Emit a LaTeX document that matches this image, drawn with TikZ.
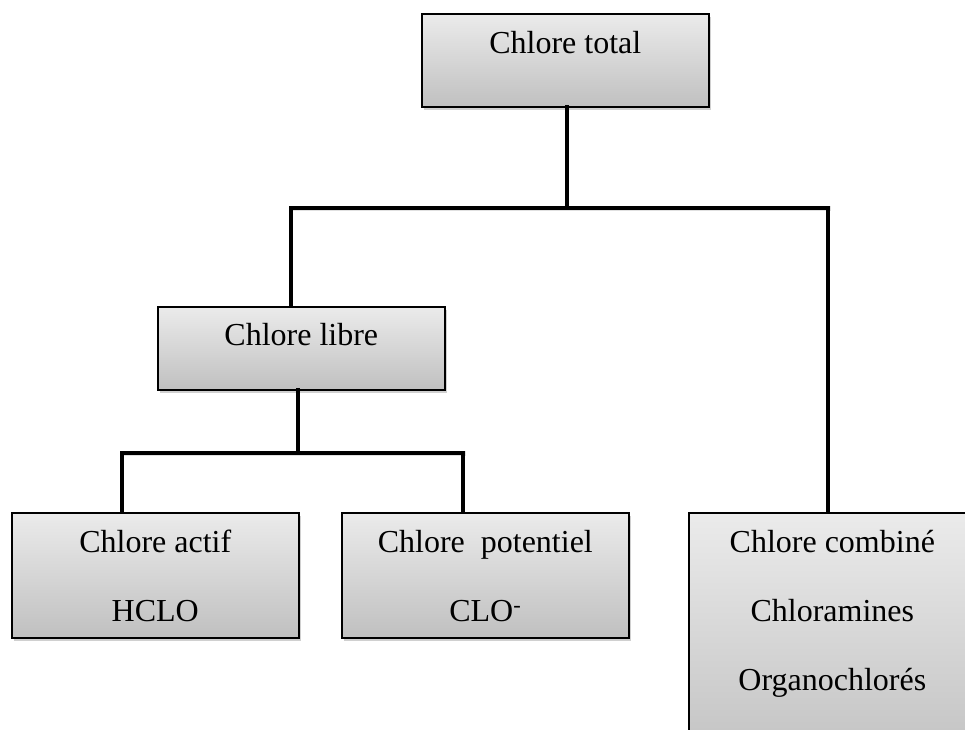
\documentclass[tikz,border=0pt]{standalone}
\usepackage{fontspec}
\setmainfont{Liberation Serif}
\usetikzlibrary{shadows}
\definecolor{boxtop}{HTML}{EBEBEB}
\definecolor{boxbot}{HTML}{C0C0C0}
\tikzset{
  box/.style={rectangle, draw=black, line width=1.6pt, top color=boxtop, bottom color=boxbot,
    minimum width=287pt, inner sep=0pt, anchor=north west,
    drop shadow={shadow xshift=2pt, shadow yshift=-3pt, opacity=0.3, fill=black!60}},
  txt/.style={font=\fontsize{32}{69}\selectfont, align=center, inner sep=0pt, anchor=north},
  conn/.style={line width=4.5pt, line cap=rect, line join=miter, black},
  connshadow/.style={line width=5pt, black, opacity=0.12, line cap=rect}
}
\begin{document}
\begin{tikzpicture}[x=1pt,y=-1pt]
\clip (0,0) rectangle (965,729);
\fill[white] (0,0) rectangle (965,729);
% boxes
\node[box, minimum height=93pt] (total) at (421,13) {};
\node[box, minimum height=83pt] (libre) at (157,306) {};
\node[box, minimum height=125pt] (actif) at (11,512) {};
\node[box, minimum height=125pt] (pot) at (341,512) {};
\node[box, minimum height=260pt] (comb) at (688,512) {};
% texts
\node[txt] (ttotal) at ([yshift=-18pt]total.north) {Chlore total};
\node[txt] (tlibre) at ([yshift=-17pt]libre.north) {Chlore libre};
\node[txt] (tactif) at ([yshift=-18pt]actif.north) {Chlore actif\\HCLO};
\node[txt] (tpot) at ([yshift=-18pt]pot.north) {Chlore~ potentiel\\CLO\textsuperscript{-}};
\node[txt] (tcomb) at ([yshift=-18pt]comb.north) {Chlore combiné\\Chloramines\\Organochlorés};
% junctions
\coordinate (jL) at (291,208);
\coordinate (jR) at (828,208);
\coordinate (kL) at (122,453);
\coordinate (kR) at (463,453);
% connector shadows
\begin{scope}[xshift=1pt,yshift=-4pt]
\draw[connshadow] (jL) -- (jR);
\draw[connshadow] (kL) -- (kR);
\end{scope}
% connectors
\draw[conn] (total.south -| 567,0) -- (567,208);
\draw[conn] (libre.north -| jL) -- (jL) -- (jR) -- (comb.north -| jR);
\draw[conn] (libre.south -| 298,0) -- (298,453);
\draw[conn] (actif.north -| kL) -- (kL) -- (kR) -- (pot.north -| kR);
\end{tikzpicture}
\end{document}
